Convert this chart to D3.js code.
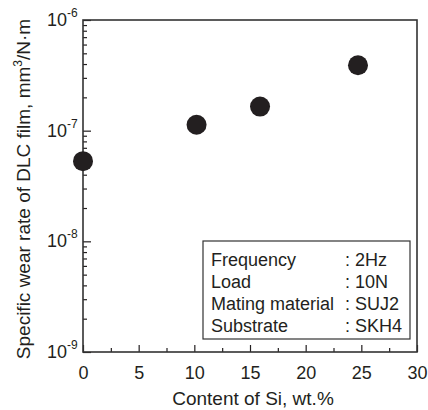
<!DOCTYPE html>
<html lang="en">
<head>
  <meta charset="UTF-8">
  <title>Specific wear rate vs Si content</title>
  <script src="https://d3js.org/d3.v7.min.js"></script>
  <style>
    body { margin: 0; background: #fff; }
    svg { font-family: "Liberation Sans", Arial, sans-serif; display: block; }
  </style>
</head>
<body>
  <svg id="chart"></svg>
  <script>
    // data
    const siContent = [0, 10.2, 15.9, 24.7];          // wt.%
    const wearRate = [5.3e-8, 1.13e-7, 1.65e-7, 3.9e-7]; // mm3/N.m
    const xTicks = [0, 5, 10, 15, 20, 25, 30];
    const yExponents = [-9, -8, -7, -6];
    const legendKeys = ["Frequency", "Load", "Mating material", "Substrate"];
    const legendValues = ["2Hz", "10N", "SUJ2", "SKH4"];

    const W = 428, H = 410;
    const margin = {top: 20, right: 11, bottom: 58, left: 83};
    const width = W - margin.left - margin.right;
    const height = H - margin.top - margin.bottom;
    const ink = "#231f20";

    const svg = d3.select("#chart").attr("width", W).attr("height", H);
    const g = svg.append("g")
      .attr("transform", "translate(" + margin.left + "," + margin.top + ")");

    const x = d3.scaleLinear().domain([0, 30]).range([0, width]);
    const y = d3.scaleLog().domain([1e-9, 1e-6]).range([height, 0]);

    // x axis: major ticks every 5, minor in between, drawn inward
    const xMinor = d3.range(2.5, 30, 5);
    g.append("g")
      .attr("transform", "translate(0," + height + ")")
      .call(d3.axisBottom(x).tickValues(xMinor).tickSize(-4).tickFormat(""))
      .call(a => a.select(".domain").remove());
    const xAxis = g.append("g")
      .attr("transform", "translate(0," + height + ")")
      .call(d3.axisBottom(x).tickValues(xTicks).tickSize(-7).tickPadding(14).tickSizeOuter(0));
    xAxis.select(".domain").remove();
    xAxis.selectAll("text")
      .style("font-size", "18px")
      .attr("fill", ink)
      .attr("dy", "0.71em");

    // y axis: log minor ticks
    const yMinor = [];
    yExponents.slice(0, -1).forEach(e => {
      for (let k = 2; k <= 9; k++) yMinor.push(k * Math.pow(10, e));
    });
    g.append("g")
      .call(d3.axisLeft(y).tickValues(yMinor).tickSize(-4).tickFormat(""))
      .call(a => a.select(".domain").remove());
    const yMajor = yExponents.map(e => Math.pow(10, e));
    g.append("g")
      .call(d3.axisLeft(y).tickValues(yMajor).tickSize(-8).tickFormat(""))
      .call(a => a.select(".domain").remove());

    // y tick labels as 10 with superscript exponent
    const yLab = g.append("g");
    yExponents.forEach(e => {
      const t = yLab.append("text")
        .attr("x", -36)
        .attr("y", y(Math.pow(10, e)) + 6)
        .attr("text-anchor", "start")
        .attr("fill", ink)
        .style("font-size", "18px");
      t.append("tspan").text("10");
      t.append("tspan")
        .attr("dy", -9)
        .style("font-size", "12px")
        .text("-" + Math.abs(e));
    });

    g.selectAll(".tick line").attr("stroke", ink).attr("stroke-width", 1.2);

    // frame
    g.append("rect")
      .attr("width", width)
      .attr("height", height)
      .attr("fill", "none")
      .attr("stroke", "#333")
      .attr("stroke-width", 1.6);

    // points
    g.append("g")
      .selectAll("circle")
      .data(siContent.map((s, i) => ({s: s, w: wearRate[i]})))
      .enter().append("circle")
      .attr("cx", d => x(d.s))
      .attr("cy", d => y(d.w))
      .attr("r", 10)
      .attr("fill", ink);

    // condition box
    const box = g.append("g").attr("transform", "translate(" + (203 - margin.left) + "," + (241 - margin.top) + ")");
    box.append("rect")
      .attr("width", 207)
      .attr("height", 98)
      .attr("fill", "#fff")
      .attr("stroke", "#333")
      .attr("stroke-width", 1.2);
    legendKeys.forEach((k, i) => {
      const yy = 25 + i * 22;
      box.append("text").attr("x", 8).attr("y", yy)
        .attr("fill", ink).style("font-size", "18px").text(k);
      box.append("text").attr("x", 142).attr("y", yy)
        .attr("fill", ink).style("font-size", "18px").text(":");
      box.append("text").attr("x", 152).attr("y", yy)
        .attr("fill", ink).style("font-size", "18px").text(legendValues[i]);
    });

    // axis titles
    svg.append("text")
      .attr("x", margin.left + width / 2 + 3)
      .attr("y", 405)
      .attr("text-anchor", "middle")
      .attr("fill", ink)
      .style("font-size", "19px")
      .text("Content of Si, wt.%");

    const yt = svg.append("text")
      .attr("transform", "translate(30," + (margin.top + height / 2 + 3) + ") rotate(-90)")
      .attr("text-anchor", "middle")
      .attr("fill", ink)
      .style("font-size", "19px");
    yt.append("tspan").text("Specific wear rate of DLC film, mm");
    yt.append("tspan").attr("dy", -8).style("font-size", "12px").text("3");
    yt.append("tspan").attr("dy", 8).text("/N\u00b7m");
  </script>
</body>
</html>
